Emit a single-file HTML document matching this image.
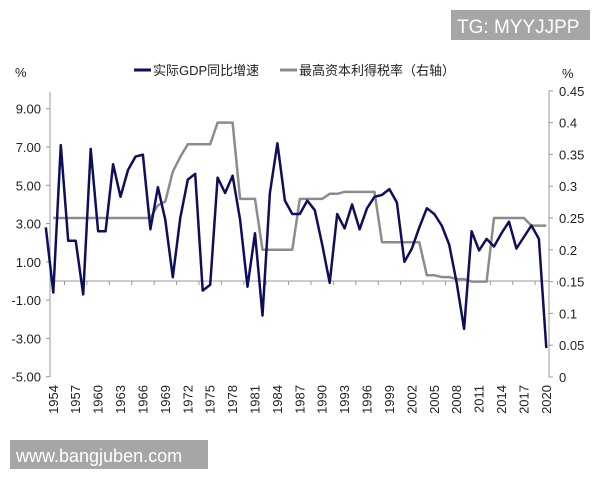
<!DOCTYPE html>
<html><head><meta charset="utf-8"><style>
body{margin:0;background:#fff;}
svg text{font-family:"Liberation Sans","Noto Sans CJK SC",sans-serif;}
</style></head><body>
<svg id="chart" width="600" height="480" viewBox="0 0 600 480" xmlns="http://www.w3.org/2000/svg">
<rect x="451" y="10" width="139" height="30" fill="#a6a6a6"/>
<text x="457" y="33" font-size="19" fill="#fff">TG: MYYJJPP</text>
<rect x="10" y="440" width="198" height="29" fill="#a6a6a6"/>
<text x="16" y="462" font-size="18" fill="#fff">www.bangjuben.com</text>
<text x="15" y="77" font-size="13" fill="#222">%</text>
<text x="562" y="78" font-size="13" fill="#222">%</text>
<line x1="134" y1="70" x2="151" y2="70" stroke="#0e0e5e" stroke-width="3"/>
<text x="153" y="75" font-size="13" fill="#222">实际GDP同比增速</text>
<line x1="280" y1="70" x2="297" y2="70" stroke="#8c8c8c" stroke-width="3"/>
<text x="299" y="75" font-size="13" fill="#222">最高资本利得税率（右轴）</text>
<g id="axes"></g>
<g id="series"></g>
</svg>
<script>
const years = [];
for (let y = 1953; y <= 2020; y++) years.push(y);
const gdpGrowth = [2.8,-0.6,7.1,2.1,2.1,-0.7,6.9,2.6,2.6,6.1,4.4,5.8,6.5,6.6,2.7,4.9,3.2,0.2,3.3,5.3,5.6,-0.5,-0.2,5.4,4.6,5.5,3.2,-0.3,2.5,-1.8,4.6,7.2,4.2,3.5,3.5,4.2,3.7,1.9,-0.1,3.5,2.75,4.0,2.7,3.8,4.4,4.5,4.8,4.1,1.0,1.7,2.8,3.8,3.5,2.9,1.9,-0.1,-2.5,2.6,1.6,2.2,1.8,2.5,3.1,1.7,2.3,2.9,2.2,-3.5];
const taxRate = [null,0.25,0.25,0.25,0.25,0.25,0.25,0.25,0.25,0.25,0.25,0.25,0.25,0.25,0.25,0.27,0.276,0.323,0.346,0.366,0.366,0.366,0.366,0.40,0.40,0.40,0.28,0.28,0.28,0.20,0.20,0.20,0.20,0.20,0.28,0.28,0.28,0.28,0.288,0.288,0.291,0.291,0.291,0.291,0.291,0.212,0.212,0.212,0.212,0.212,0.212,0.16,0.16,0.157,0.157,0.154,0.154,0.15,0.15,0.15,0.25,0.25,0.25,0.25,0.25,0.238,0.238,0.238];
const leftTicks = [9,7,5,3,1,-1,-3,-5];
const leftTickLabels = ["9.00","7.00","5.00","3.00","1.00","-1.00","-3.00","-5.00"];
const rightTicks = [0.45,0.4,0.35,0.3,0.25,0.2,0.15,0.1,0.05,0];
const rightTickLabels = ["0.45","0.4","0.35","0.3","0.25","0.2","0.15","0.1","0.05","0"];
const xLabelYears = [];
for (let y = 1954; y <= 2020; y += 3) xLabelYears.push(y);

const NS = "http://www.w3.org/2000/svg";
const xScale = yr => 53.3 + (yr - 1954) * 7.47;
const yLeft = v => 281 - v * 19.14;
const yRight = r => 377 - r * 636;
function mk(tag, attrs, parent) {
  const e = document.createElementNS(NS, tag);
  for (const k in attrs) e.setAttribute(k, attrs[k]);
  parent.appendChild(e);
  return e;
}
const axes = document.getElementById('axes');
const series = document.getElementById('series');
let e;
e = mk('line', {x1:50,y1:92,x2:50,y2:377,stroke:'#999','stroke-width':1}, axes);


e = mk('line', {x1:549,y1:91,x2:549,y2:377,stroke:'#999','stroke-width':1}, axes);


e = mk('line', {x1:50,y1:yLeft(0),x2:549,y2:yLeft(0),stroke:'#999','stroke-width':1}, axes);


leftTicks.forEach((v, i) => {
  const y = yLeft(v);
  const t = mk('line', {x1:46,y1:y,x2:50,y2:y,stroke:'#999'}, axes);
  
  
  const l = mk('text', {x:41,y:y+5,'font-size':13,'text-anchor':'end',fill:'#222'}, axes);
  l.textContent = leftTickLabels[i];
  
  
});
rightTicks.forEach((v, i) => {
  const y = yRight(v);
  const t = mk('line', {x1:549,y1:y,x2:553,y2:y,stroke:'#999'}, axes);
  
  
  const l = mk('text', {x:559,y:y+5,'font-size':13,fill:'#222'}, axes);
  l.textContent = rightTickLabels[i];
  
  
});
xLabelYears.forEach(yr => {
  const x = xScale(yr);
  const t = mk('line', {x1:x+11.2,y1:yLeft(0),x2:x+11.2,y2:yLeft(0)+4,stroke:'#999'}, axes);
  
  
  const l = mk('text', {x:0,y:0,'font-size':13,'text-anchor':'end',fill:'#222',transform:`translate(${x+4.5},385) rotate(-90)`}, axes);
  l.textContent = String(yr);
  
  
});
let tp = '';
taxRate.forEach((v, i) => {
  if (v === null) return;
  tp += (tp ? 'L' : 'M') + xScale(years[i]).toFixed(1) + ',' + yRight(v).toFixed(1);
});
e = mk('path', {d:tp,fill:'none',stroke:'#8c8c8c','stroke-width':2.5,'stroke-linejoin':'round'}, series);


let gp = '';
gdpGrowth.forEach((v, i) => {
  gp += (i ? 'L' : 'M') + xScale(years[i]).toFixed(1) + ',' + yLeft(v).toFixed(1);
});
e = mk('path', {d:gp,fill:'none',stroke:'#0e0e5e','stroke-width':2.5,'stroke-linejoin':'round'}, series);


</script>
</body></html>
